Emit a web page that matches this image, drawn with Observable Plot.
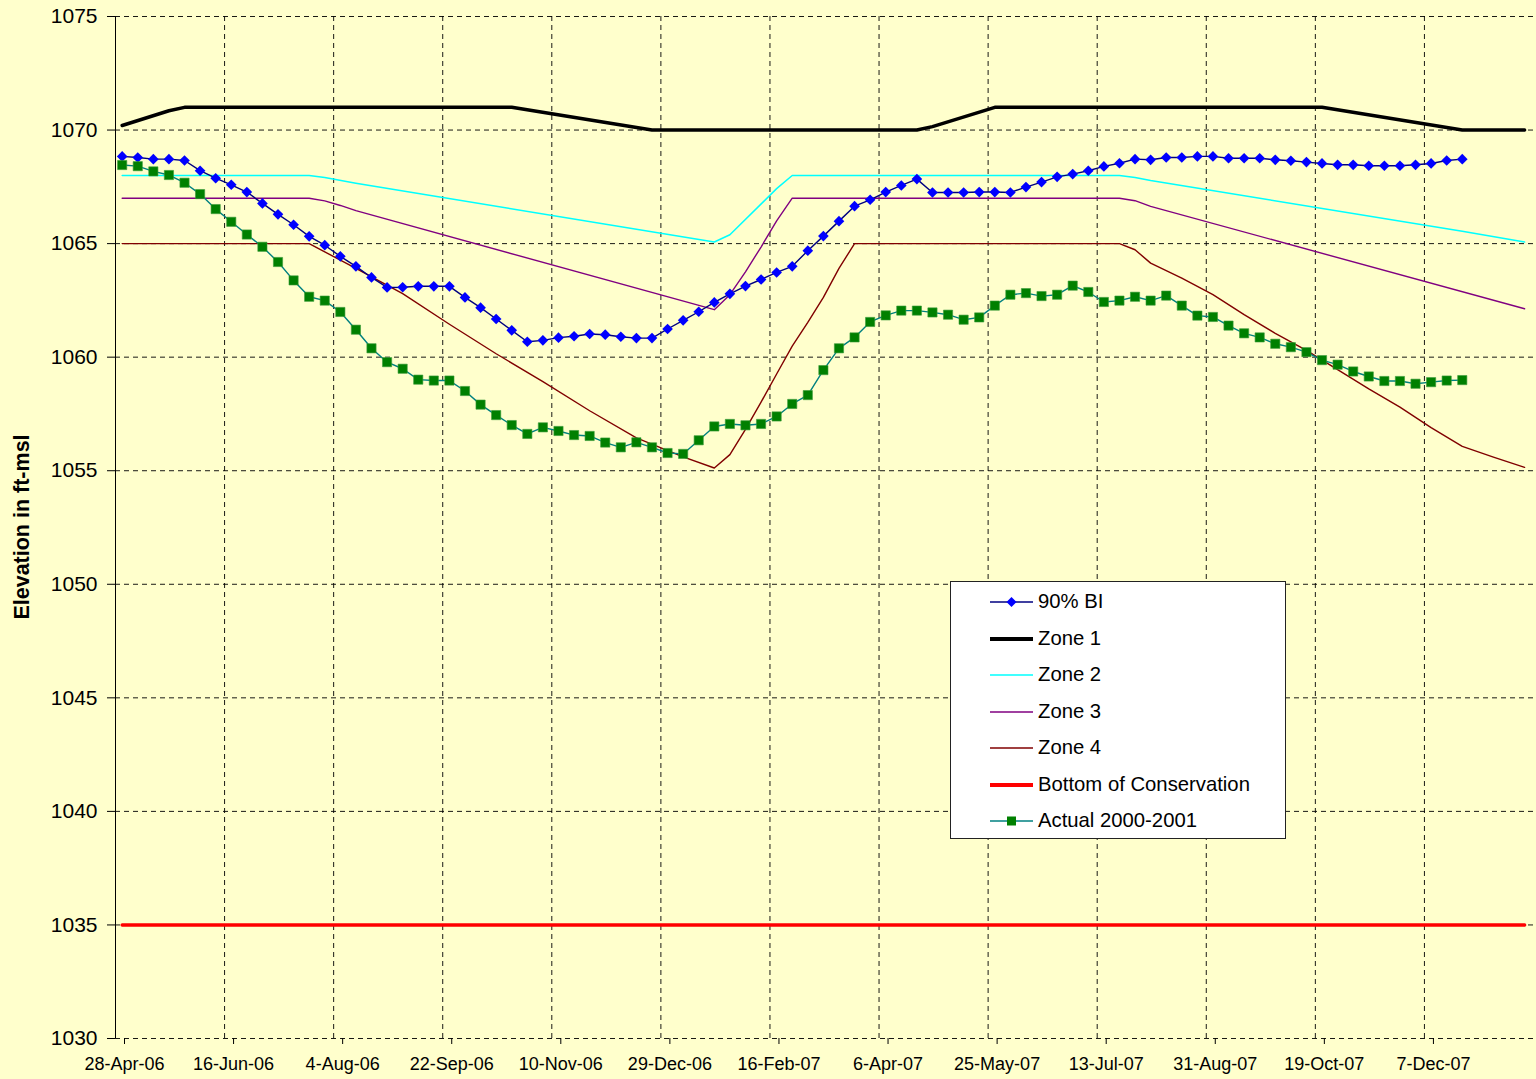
<!DOCTYPE html>
<html>
<head>
<meta charset="utf-8">
<script src="https://cdn.jsdelivr.net/npm/d3@7"></script>
<script src="https://cdn.jsdelivr.net/npm/@observablehq/plot@0.6"></script>
<style>
  html, body { margin: 0; padding: 0; background: #FFFFCC; }
  #wrap { position: relative; width: 1536px; height: 1079px; background: #FFFFCC; font-family: "Liberation Sans", Arial, sans-serif; }
  #ytitle { position: absolute; left: 22px; top: 527px; transform: translate(-50%, -50%) rotate(-90deg); white-space: nowrap; font-weight: bold; font-size: 21.5px; color: #000; }
  #legend { position: absolute; left: 950px; top: 581px; width: 336px; height: 258px; background: #fff; border: 1px solid #222; box-sizing: border-box; }
  .row { position: absolute; left: 0; height: 30px; width: 100%; }
  .row svg { position: absolute; left: 39px; top: 0; }
  .row span { position: absolute; left: 87px; top: 3px; font-size: 20.3px; color: #000; white-space: nowrap; }
</style>
</head>
<body>
<div id="wrap">
  <div id="chart"></div>
  <div id="ytitle">Elevation in ft-msl</div>
  <div id="legend"></div>
</div>
<script>
// ---- data ----
const seriesStart = "2006-05-01";   // first weekly value
const xDomain = ["2006-04-28", "2008-01-25"];
const xTickDates = ["2006-04-28","2006-06-16","2006-08-04","2006-09-22","2006-11-10","2006-12-29","2007-02-16","2007-04-06","2007-05-25","2007-07-13","2007-08-31","2007-10-19","2007-12-07","2008-01-25"];
const xTickLabels = ["28-Apr-06","16-Jun-06","4-Aug-06","22-Sep-06","10-Nov-06","29-Dec-06","16-Feb-07","6-Apr-07","25-May-07","13-Jul-07","31-Aug-07","19-Oct-07","7-Dec-07",""];
const yTicks = [1030,1035,1040,1045,1050,1055,1060,1065,1070,1075];

const bi90 = [1068.84,1068.79,1068.72,1068.72,1068.66,1068.21,1067.88,1067.59,1067.27,1066.77,
  1066.29,1065.83,1065.32,1064.93,1064.44,1064.00,1063.51,1063.07,1063.08,1063.12,
  1063.12,1063.12,1062.63,1062.18,1061.68,1061.18,1060.68,1060.74,1060.86,1060.92,
  1061.02,1060.99,1060.90,1060.84,1060.84,1061.24,1061.62,1062.00,1062.41,1062.79,
  1063.13,1063.42,1063.73,1064.00,1064.69,1065.33,1065.99,1066.65,1066.93,1067.27,
  1067.56,1067.84,1067.25,1067.25,1067.25,1067.27,1067.27,1067.25,1067.49,1067.71,
  1067.94,1068.06,1068.21,1068.40,1068.54,1068.72,1068.69,1068.79,1068.79,1068.84,
  1068.84,1068.76,1068.76,1068.76,1068.69,1068.65,1068.59,1068.53,1068.47,1068.47,
  1068.43,1068.43,1068.43,1068.47,1068.53,1068.66,1068.72];

const actual = [1068.46,1068.41,1068.18,1068.02,1067.68,1067.18,1066.52,1065.96,1065.40,1064.86,
  1064.19,1063.38,1062.66,1062.49,1061.99,1061.21,1060.39,1059.78,1059.49,1059.01,
  1058.97,1058.97,1058.51,1057.91,1057.45,1057.01,1056.62,1056.91,1056.75,1056.57,
  1056.53,1056.24,1056.03,1056.25,1056.03,1055.78,1055.74,1056.34,1056.95,1057.06,
  1057.00,1057.06,1057.39,1057.94,1058.33,1059.43,1060.39,1060.87,1061.55,1061.84,
  1062.05,1062.05,1061.97,1061.87,1061.65,1061.75,1062.27,1062.75,1062.82,1062.69,
  1062.75,1063.15,1062.87,1062.43,1062.49,1062.66,1062.49,1062.71,1062.27,1061.83,
  1061.77,1061.39,1061.05,1060.87,1060.59,1060.44,1060.22,1059.87,1059.67,1059.37,
  1059.15,1058.95,1058.95,1058.83,1058.90,1058.97,1058.99];

// zone curves: week index of each break point and its value
const zone1Week = [0,3,4,25,34,51,52,56,77,86,90];
const zone1Val  = [1070.2,1070.85,1071,1071,1070,1070,1070.15,1071,1071,1070,1070];
const zone2Week = [0,12,13,15,38,39,42,43,64,65,66,86,90];
const zone2Val  = [1068,1068,1067.91,1067.66,1065.07,1065.39,1067.42,1068,1068,1067.91,1067.78,1065.54,1065.07];
const zone3Week = [0,12,13,14,15,38,39,40,41,42,43,64,65,66,90];
const zone3Val  = [1067,1067,1066.88,1066.68,1066.45,1062.09,1062.75,1063.76,1064.85,1066.0,1067,1067,1066.89,1066.64,1062.13];
const zone4Week = [0,12,15,18,21,24,27,30,33,36,38,39,40,41,42,43,44,45,46,47,64,65,66,68,70,72,74,76,78,80,82,84,86,88,90];
const zone4Val  = [1065,1065,1063.91,1062.8,1061.45,1060.15,1058.92,1057.64,1056.45,1055.61,1055.12,1055.71,1056.82,1058.02,1059.26,1060.49,1061.53,1062.63,1063.91,1065,1065,1064.73,1064.14,1063.48,1062.75,1061.87,1061.05,1060.3,1059.45,1058.6,1057.8,1056.9,1056.07,1055.6,1055.15];
const bottomWeek = [0,90];
const bottomVal  = [1035,1035];

// ---- build tables ----
const DAY = 864e5;
const t0 = new Date(seriesStart + "T00:00:00Z").getTime();
const weekDate = i => new Date(t0 + i * 7 * DAY);
const toRows = (weeks, vals) => weeks.map((w, i) => ({date: weekDate(w), value: vals[i]}));
const biRows = bi90.map((v, i) => ({date: weekDate(i), value: v}));
const actRows = actual.map((v, i) => ({date: weekDate(i), value: v}));
const z1 = toRows(zone1Week, zone1Val), z2 = toRows(zone2Week, zone2Val),
      z3 = toRows(zone3Week, zone3Val), z4 = toRows(zone4Week, zone4Val),
      zb = toRows(bottomWeek, bottomVal);
const parse = s => new Date(s + "T00:00:00Z");
const ticks = xTickDates.map(parse);
const labelMap = new Map(ticks.map((d, i) => [+d, xTickLabels[i]]));

const grid = {stroke: "#000", strokeOpacity: 0.9, strokeWidth: 1, strokeDasharray: "5,4"};

const chart = Plot.plot({
  width: 1536, height: 1079,
  marginLeft: 115, marginRight: 3, marginTop: 16, marginBottom: 41,
  style: {background: "#FFFFCC", fontFamily: "'Liberation Sans', Arial, sans-serif", color: "#000", overflow: "visible"},
  x: {type: "utc", domain: xDomain.map(parse)},
  y: {domain: [1030, 1075]},
  marks: [
    Plot.gridY(yTicks, grid),
    Plot.gridX(ticks.slice(1, -1), grid),
    Plot.ruleX([parse(xDomain[0])], {stroke: "#000", strokeWidth: 1}),
    Plot.axisY(yTicks, {tickSize: 8, tickPadding: 10, fontSize: 21, label: null, tickFormat: d => String(d)}),
    Plot.axisX(ticks, {tickSize: 6, tickPadding: 13, fontSize: 18, label: null, dx: 9, tickFormat: d => labelMap.get(+d)}),
    Plot.line(zb, {x: "date", y: "value", stroke: "#FF0000", strokeWidth: 3.5}),
    Plot.line(z1, {x: "date", y: "value", stroke: "#000", strokeWidth: 3.5}),
    Plot.line(z2, {x: "date", y: "value", stroke: "#00FFFF", strokeWidth: 1.5}),
    Plot.line(z3, {x: "date", y: "value", stroke: "#800080", strokeWidth: 1.4}),
    Plot.line(z4, {x: "date", y: "value", stroke: "#800000", strokeWidth: 1.4}),
    Plot.line(biRows, {x: "date", y: "value", stroke: "#000080", strokeWidth: 1.4}),
    Plot.dot(biRows, {x: "date", y: "value", symbol: "diamond2", r: 4.8, fill: "#0000FF", stroke: "none"}),
    Plot.line(actRows, {x: "date", y: "value", stroke: "#008080", strokeWidth: 1.4}),
    Plot.dot(actRows, {x: "date", y: "value", symbol: "square", r: 5.2, fill: "#008000", stroke: "#3a9a3a", strokeWidth: 0.6})
  ]
});
document.getElementById("chart").appendChild(chart);

// ---- legend ----
const legendItems = [
  {name: "90% BI", stroke: "#000080", width: 1.3, marker: "diamond", fill: "#0000FF"},
  {name: "Zone 1", stroke: "#000", width: 4},
  {name: "Zone 2", stroke: "#00FFFF", width: 1.5},
  {name: "Zone 3", stroke: "#800080", width: 1.3},
  {name: "Zone 4", stroke: "#800000", width: 1.3},
  {name: "Bottom of Conservation", stroke: "#FF0000", width: 4},
  {name: "Actual 2000-2001", stroke: "#008080", width: 1.3, marker: "square", fill: "#008000"}
];
const legend = d3.select("#legend");
legendItems.forEach((it, i) => {
  const row = legend.append("div").attr("class", "row").style("top", (5 + i * 36.5) + "px");
  const svg = row.append("svg").attr("width", 44).attr("height", 30);
  svg.append("line").attr("x1", 0).attr("x2", 43).attr("y1", 15).attr("y2", 15)
     .attr("stroke", it.stroke).attr("stroke-width", it.width);
  if (it.marker === "diamond") {
    svg.append("path").attr("d", "M21.5,10 L26.5,15 L21.5,20 L16.5,15 Z").attr("fill", it.fill);
  } else if (it.marker === "square") {
    svg.append("rect").attr("x", 17).attr("y", 10.5).attr("width", 9).attr("height", 9).attr("fill", it.fill);
  }
  row.append("span").text(it.name);
});
</script>
</body>
</html>
